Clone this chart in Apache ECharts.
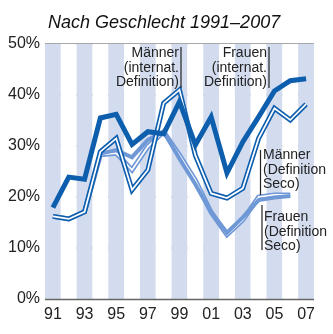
<!DOCTYPE html>
<html><head><meta charset="utf-8">
<script src="https://cdn.jsdelivr.net/npm/echarts@6/dist/echarts.min.js"></script>
<style>html,body{margin:0;padding:0;background:#fff}#c{width:333px;height:334px}</style>
</head><body><div id="c"></div>
<script>
const years = ['91','92','93','94','95','96','97','98','99','00','01','02','03','04','05','06','07'];
const frauenInt = [17.9, 23.9, 23.5, 35.5, 36.2, 30.3, 32.8, 32.4, 38.7, 30.2, 35.7, 24.7, 30.8, 35.7, 40.8, 42.8, 43.2];
const maennerInt = [16.2, 15.7, 17.1, 28.9, 31.5, 21.4, 25.3, 38.4, 41.0, 28.2, 20.7, 19.8, 21.7, 31.5, 37.4, 35.1, 38.2];
const frauenSeco = [16.2, 15.7, 17.1, 28.5, 29.2, 27.8, 31.2, 32.8, 27.5, 22.5, 17.0, 13.0, 16.0, 19.4, 19.9, 20.2, null];
const maennerSeco = [16.2, 15.7, 17.1, 28.3, 28.6, 25.3, 29.9, 32.8, 28.2, 23.3, 17.0, 12.6, 15.5, 20.0, 20.4, 20.4, null];
const yTicks = [0, 10, 20, 30, 40, 50];

const dark = '#0e5eae', light = '#6f98d6', stripe = '#d3dcef';
const chart = echarts.init(document.getElementById('c'));
function dbl(name, data, color, z) {
  return [
    {name: name, type: 'line', data: data, symbol: 'none', z: z, lineStyle: {color: color, width: 5, join: 'miter'}},
    {name: name + '_in', type: 'line', data: data, symbol: 'none', z: z + 1, lineStyle: {color: '#fff', width: 1.7, join: 'miter'}}
  ];
}
const txt = (x, y, text, align) => ({type: 'text', z: 100, x: x, y: y, style: {text: text, align: align, verticalAlign: 'top', fill: '#222', font: '14px "Liberation Sans", Arial, sans-serif', lineHeight: 14.5}});
const vline = (x, y1, y2) => ({type: 'line', z: 100, shape: {x1: x, y1: y1, x2: x, y2: y2}, style: {stroke: '#222', lineWidth: 1.2}});
chart.setOption({
  animation: false,
  title: {text: 'Nach Geschlecht 1991–2007', left: 43, top: 9, textStyle: {fontFamily: '"Liberation Sans", Arial, sans-serif', fontStyle: 'italic', fontWeight: 'normal', fontSize: 18, color: '#111'}},
  grid: {left: 45, right: 19, top: 44, bottom: 35},
  xAxis: {
    type: 'category', data: years, boundaryGap: true,
    axisLine: {show: false}, axisTick: {show: false},
    axisLabel: {interval: 1, color: '#222', fontSize: 16, fontFamily: '"Liberation Sans", Arial, sans-serif', margin: 8},
    splitLine: {show: false},
    splitArea: {show: true, interval: 0, areaStyle: {color: [stripe, '#ffffff']}}
  },
  yAxis: {
    type: 'value', min: 0, max: 50, interval: 10,
    axisLine: {show: false}, axisTick: {show: false},
    axisLabel: {formatter: '{value}%', color: '#222', fontSize: 16, fontFamily: '"Liberation Sans", Arial, sans-serif', margin: 5},
    splitLine: {show: true, lineStyle: {color: '#8c8c8c', width: 1.5}}
  },
  series: [
    ...dbl('Männer (Definition Seco)', maennerSeco, light, 2),
    {name: 'Frauen (Definition Seco)', type: 'line', data: frauenSeco, symbol: 'none', z: 4, lineStyle: {color: light, width: 4, join: 'miter'}},
    ...dbl('Männer (internat. Definition)', maennerInt, dark, 5),
    {name: 'Frauen (internat. Definition)', type: 'line', data: frauenInt, symbol: 'none', z: 7, lineStyle: {color: dark, width: 5, join: 'miter'}}
  ],
  graphic: [
    {type: 'line', z: 100, shape: {x1: 45, y1: 299.5, x2: 314, y2: 299.5}, style: {stroke: '#666', lineWidth: 1.5}},
    txt(179, 46, 'Männer\n(internat.\nDefinition)', 'right'), vline(181, 47, 88),
    txt(267, 46, 'Frauen\n(internat.\nDefinition)', 'right'), vline(269, 47, 88),
    txt(263, 148, 'Männer\n(Definition\nSeco)', 'left'), vline(260.5, 150, 195),
    txt(264, 210, 'Frauen\n(Definition\nSeco)', 'left'), vline(262, 205, 250)
  ]
});
</script></body></html>
